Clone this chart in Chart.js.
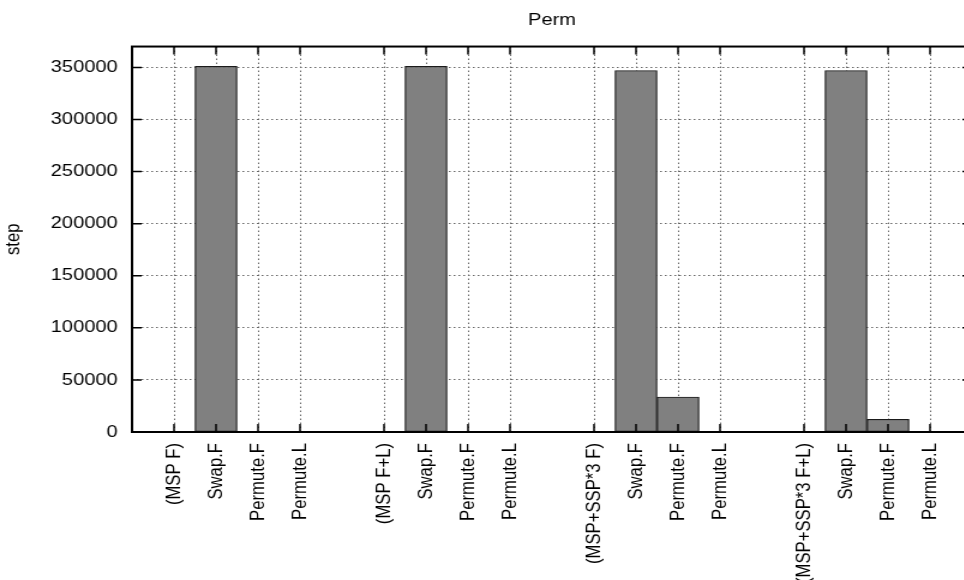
<!DOCTYPE html>
<html>
<head>
<meta charset="utf-8">
<script src="https://cdn.jsdelivr.net/npm/chart.js@4/dist/chart.umd.min.js"></script>
<style>
  html, body { margin: 0; padding: 0; background: #fff; overflow: hidden; }
  /* the plot is drawn narrow and stretched sideways, like the old png it comes from */
  #wrap { width: 810px; height: 580px; transform: scaleX(1.2); transform-origin: 0 0; }
</style>
</head>
<body>
<div id="wrap"><canvas id="chart" width="810" height="580"></canvas></div>
<script>
// Groups and the runs inside each group
const groups = ['(MSP F)', '(MSP F+L)', '(MSP+SSP*3 F)', '(MSP+SSP*3 F+L)'];
const methods = ['Swap.F', 'Permute.F', 'Permute.L'];

// step counts per group
const swapF = [351000, 351000, 347000, 347000];
const permuteF = [0, 0, 33600, 12200];
const permuteL = [0, 0, 0, 0];
const series = [swapF, permuteF, permuteL];

const yTicks = [0, 50000, 100000, 150000, 200000, 250000, 300000, 350000];

// each group takes 5 slots: the group name, three runs, one blank
const slot = (g, k) => g * 5 + k;
const xTicks = [], xLabels = {};
groups.forEach((g, gi) => {
    xTicks.push(slot(gi, 0)); xLabels[slot(gi, 0)] = g;
    methods.forEach((m, k) => { xTicks.push(slot(gi, k + 1)); xLabels[slot(gi, k + 1)] = m; });
});

const bars = [];
groups.forEach((g, gi) => {
    series.forEach((vals, k) => bars.push({ x: slot(gi, k + 1), y: vals[gi] }));
});

const font = { family: '"Liberation Sans", Arial, sans-serif', size: 16.7, weight: 'normal' };

// gnuplot style frame with inward ticks on all four sides
const frameTicks = {
    id: 'frameTicks',
    afterDraw(chart) {
        const { ctx, chartArea: a, scales: { x, y } } = chart;
        ctx.save();
        ctx.strokeStyle = '#000';
        ctx.lineWidth = 1.5;
        ctx.beginPath();
        x.ticks.forEach(t => {
            const px = x.getPixelForValue(t.value);
            ctx.moveTo(px, a.bottom); ctx.lineTo(px, a.bottom - 8);
            ctx.moveTo(px, a.top); ctx.lineTo(px, a.top + 8);
        });
        y.ticks.forEach(t => {
            const py = y.getPixelForValue(t.value);
            ctx.moveTo(a.left, py); ctx.lineTo(a.left + 8, py);
            ctx.moveTo(a.right, py); ctx.lineTo(a.right - 8, py);
        });
        ctx.stroke();
        ctx.lineWidth = 2;
        ctx.strokeRect(a.left, a.top, a.right - a.left, a.bottom - a.top);
        ctx.restore();
    }
};

new Chart(document.getElementById('chart'), {
    type: 'bar',
    data: {
        datasets: [{
            data: bars,
            backgroundColor: '#808080',
            borderColor: '#1a1a1a',
            borderWidth: 1.2,
            borderSkipped: false,
            barPercentage: 1,
            categoryPercentage: 1
        }]
    },
    options: {
        responsive: false,
        devicePixelRatio: 1,
        animation: false,
        layout: { padding: 0 },
        plugins: {
            legend: { display: false },
            tooltip: { enabled: false },
            title: {
                display: true,
                text: 'Perm',
                fullSize: false,
                color: '#000',
                font: font,
                padding: { top: 10.5, bottom: 16 }
            }
        },
        scales: {
            x: {
                type: 'linear',
                min: -1,
                max: 19,
                offset: false,
                afterBuildTicks: scale => { scale.ticks = xTicks.map(v => ({ value: v })); },
                afterFit: scale => { scale.height = 148; },
                ticks: {
                    autoSkip: false,
                    minRotation: 90,
                    maxRotation: 90,
                    padding: 11,
                    color: '#000',
                    font: font,
                    callback: v => xLabels[v]
                },
                grid: { offset: false, drawTicks: false, color: '#666', lineWidth: 1 },
                border: { display: false, dash: [1.5, 2.5] }
            },
            y: {
                min: 0,
                max: 370000,
                afterBuildTicks: scale => { scale.ticks = yTicks.map(v => ({ value: v })); },
                afterFit: scale => { scale.width = 110; },
                title: { display: true, text: 'step', color: '#000', font: font, padding: { top: 1, bottom: 0 } },
                ticks: { padding: 12, color: '#000', font: font, callback: v => String(v) },
                grid: { drawTicks: false, color: '#666', lineWidth: 1 },
                border: { display: false, dash: [1.5, 2.5] }
            }
        }
    },
    plugins: [frameTicks]
});
</script>
</body>
</html>
